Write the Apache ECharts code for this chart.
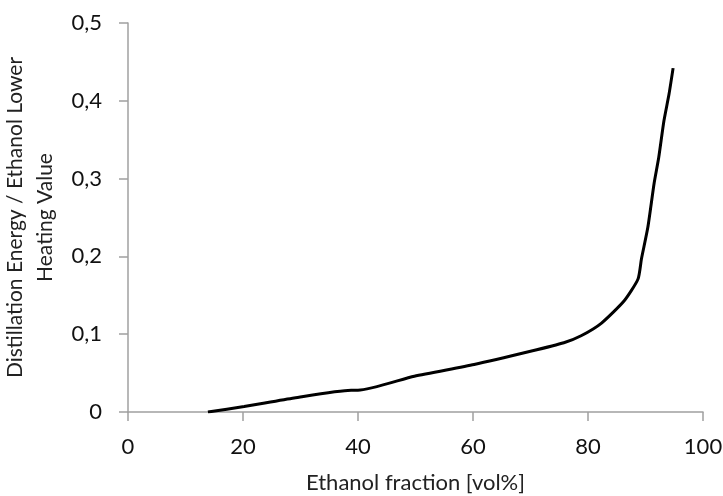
<!DOCTYPE html>
<html>
<head>
<meta charset="utf-8">
<script src="https://cdn.jsdelivr.net/npm/echarts@6/dist/echarts.min.js"></script>
<style>
html, body { margin: 0; padding: 0; background: #fff; }
#chart { width: 723px; height: 496px; }
</style>
</head>
<body>
<div id="chart"></div>
<script>
// ethanol fraction (vol%) vs distillation energy / LHV
var fraction = [13.9, 20.2, 28.9, 38.8, 40, 49.8, 60.2, 70, 75.8, 78.8, 82.3, 86.3, 88.7, 89.3, 90.4, 91.5, 92.3, 93.2, 94.1, 94.8];
var energy   = [0, 0.007, 0.018, 0.028, 0.028, 0.046, 0.061, 0.078, 0.089, 0.098, 0.114, 0.143, 0.171, 0.197, 0.237, 0.294, 0.327, 0.374, 0.409, 0.442];

var font = 'Lato';
var axisGrey = '#a0a0a0';

var chart = echarts.init(document.getElementById('chart'));
chart.setOption({
  animation: false,
  grid: { left: 128, right: 20, top: 23, bottom: 84, outerBoundsMode: 'none' },
  xAxis: {
    type: 'value',
    min: 0, max: 100, interval: 20,
    name: 'Ethanol fraction [vol%]',
    nameLocation: 'middle',
    nameGap: 60,
    nameTextStyle: { fontFamily: font, fontSize: 22, color: '#222' },
    axisLine: { lineStyle: { color: axisGrey, width: 1.5 } },
    axisTick: { show: true, length: 9, lineStyle: { color: axisGrey, width: 1.5 } },
    axisLabel: { fontFamily: font, fontSize: 22, color: '#111', margin: 24 },
    splitLine: { show: false }
  },
  yAxis: {
    type: 'value',
    min: 0, max: 0.5, interval: 0.1,
    name: 'Distillation Energy / Ethanol Lower\nHeating Value',
    nameLocation: 'middle',
    nameGap: 59,
    nameTextStyle: { fontFamily: font, fontSize: 21, color: '#222', lineHeight: 30, align: 'center' },
    axisLine: { show: true, lineStyle: { color: axisGrey, width: 1.5 } },
    axisTick: { show: true, length: 9, lineStyle: { color: axisGrey, width: 1.5 } },
    axisLabel: {
      fontFamily: font, fontSize: 22, color: '#111', margin: 26,
      formatter: function (v) { return v === 0 ? '0' : v.toFixed(1).replace('.', ','); }
    },
    splitLine: { show: false }
  },
  series: [{
    type: 'line',
    data: fraction.map(function (x, i) { return [x, energy[i]]; }),
    showSymbol: false,
    smooth: 0.2,
    lineStyle: { color: '#000', width: 3 }
  }]
});
</script>
</body>
</html>
